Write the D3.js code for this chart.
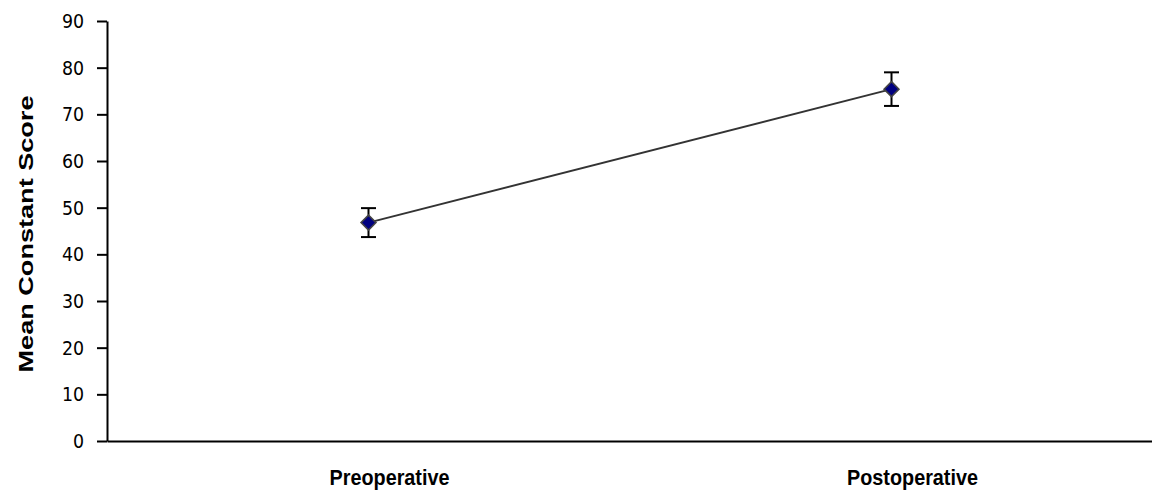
<!DOCTYPE html>
<html>
<head>
<meta charset="utf-8">
<script src="https://cdn.jsdelivr.net/npm/d3@7"></script>
<style>
  html, body { margin: 0; padding: 0; background: #fff; }
  svg { display: block; }
</style>
</head>
<body>
<svg id="chart" width="1152" height="492"></svg>
<script>
const categories = ["Preoperative", "Postoperative"];
const means = [46.8, 75.4];
const errors = [3.1, 3.6];
const yTicks = [0, 10, 20, 30, 40, 50, 60, 70, 80, 90];
const yTitle = "Mean Constant Score";

const svg = d3.select("#chart");
const x = d3.scaleBand().domain(categories).range([107, 1153]).padding(0);
const y = d3.scaleLinear().domain([0, 90]).range([441, 21]);
const cx = d => x(d) + x.bandwidth() / 2;

// Y axis
const yAxis = svg.append("g")
  .attr("transform", "translate(107,0)")
  .call(d3.axisLeft(y).tickValues(yTicks).tickSize(10).tickPadding(13).tickSizeOuter(0));
yAxis.select(".domain").attr("stroke", "#000").attr("stroke-width", 2);
yAxis.selectAll(".tick line").attr("stroke", "#000").attr("stroke-width", 2);
yAxis.selectAll(".tick text")
  .attr("font-family", "DejaVu Sans, Verdana, sans-serif")
  .attr("font-size", 20)
  .attr("fill", "#000")
  .attr("x", -23 / 0.87)
  .attr("transform", "scale(0.87,1)");

// X axis
const xAxis = svg.append("g")
  .attr("transform", "translate(0,441)")
  .call(d3.axisBottom(x).tickSize(0).tickSizeOuter(0).tickPadding(28));
xAxis.select(".domain").attr("stroke", "#000").attr("stroke-width", 2);
xAxis.selectAll(".tick text")
  .attr("font-family", "Liberation Sans, Arial, sans-serif")
  .attr("font-weight", "bold")
  .attr("font-size", 22.5)
  .attr("dx", 21)
  .attr("fill", "#000")
  .each(function () {
    const len = this.getComputedTextLength();
    d3.select(this).attr("textLength", len * 0.88).attr("lengthAdjust", "spacingAndGlyphs");
  });

// Y title
svg.append("text")
  .attr("transform", "translate(33,234) rotate(-90)")
  .attr("text-anchor", "middle")
  .attr("font-family", "Liberation Sans, Arial, sans-serif")
  .attr("font-weight", "bold")
  .attr("font-size", 20.5)
  .attr("textLength", 277)
  .attr("lengthAdjust", "spacingAndGlyphs")
  .attr("fill", "#000")
  .text(yTitle);

const data = categories.map((c, i) => ({ c, m: means[i], e: errors[i] }));

// Line
svg.append("path")
  .datum(data)
  .attr("fill", "none")
  .attr("stroke", "#333")
  .attr("stroke-width", 2)
  .attr("d", d3.line().x(d => cx(d.c)).y(d => y(d.m)));

// Error bars
const eb = svg.append("g").selectAll("g").data(data).join("g");
eb.append("line")
  .attr("x1", d => cx(d.c)).attr("x2", d => cx(d.c))
  .attr("y1", d => y(d.m + d.e)).attr("y2", d => y(d.m - d.e))
  .attr("stroke", "#000").attr("stroke-width", 2);
eb.append("line")
  .attr("x1", d => cx(d.c) - 7.5).attr("x2", d => cx(d.c) + 7.5)
  .attr("y1", d => y(d.m + d.e)).attr("y2", d => y(d.m + d.e))
  .attr("stroke", "#000").attr("stroke-width", 2);
eb.append("line")
  .attr("x1", d => cx(d.c) - 7.5).attr("x2", d => cx(d.c) + 7.5)
  .attr("y1", d => y(d.m - d.e)).attr("y2", d => y(d.m - d.e))
  .attr("stroke", "#000").attr("stroke-width", 2);

// Markers
svg.append("g").selectAll("path").data(data).join("path")
  .attr("transform", d => `translate(${cx(d.c)},${y(d.m)})`)
  .attr("d", "M0,-7.5L7.5,0L0,7.5L-7.5,0Z")
  .attr("fill", "#000080")
  .attr("stroke", "#444")
  .attr("stroke-width", 1.5);
</script>
</body>
</html>
